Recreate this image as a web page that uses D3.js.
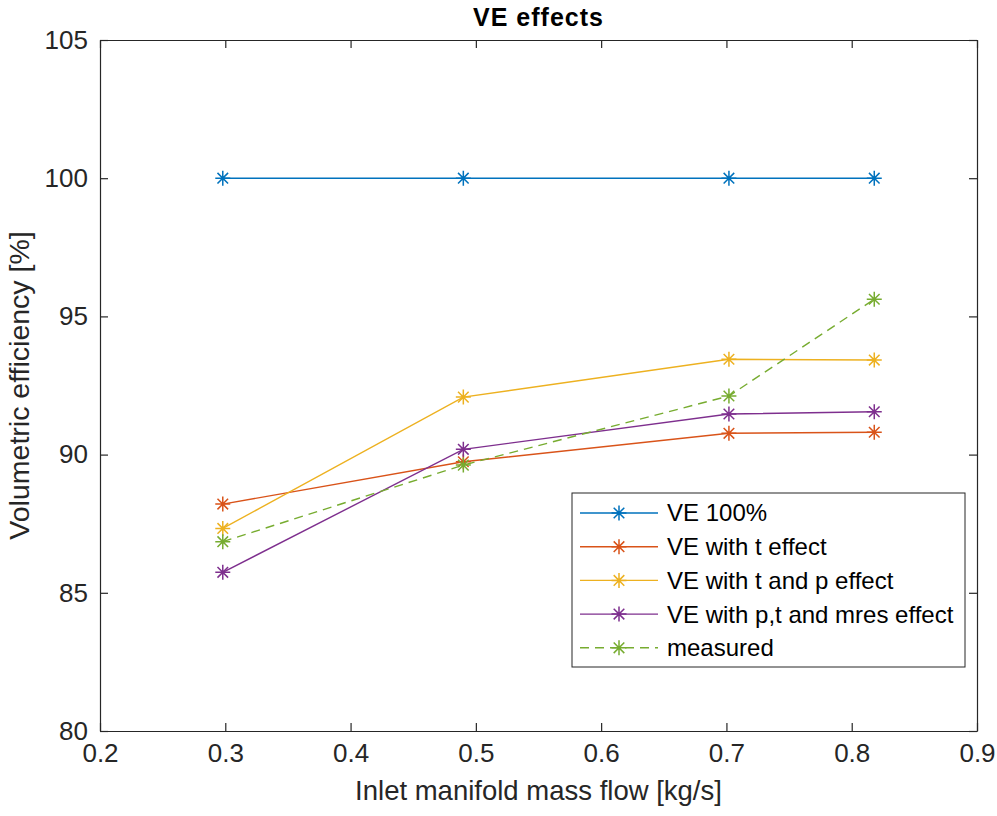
<!DOCTYPE html>
<html>
<head>
<meta charset="utf-8">
<script src="https://cdn.jsdelivr.net/npm/d3@7"></script>
<style>
  body { margin: 0; background: #fff; }
  svg { font-family: "Liberation Sans", Arial, sans-serif; }
</style>
</head>
<body>
<div id="chart"></div>
<script>
const width = 997;
const height = 816;

// data
const massFlow = [0.298, 0.49, 0.702, 0.818];
const ve100 = [100, 100, 100, 100];
const veT = [88.21, 89.74, 90.77, 90.81];
const veTP = [87.33, 92.08, 93.45, 93.42];
const vePTM = [85.74, 90.19, 91.47, 91.55];
const measured = [86.85, 89.62, 92.12, 95.62];

const seriesNames = ["VE 100%", "VE with t effect", "VE with t and p effect", "VE with p,t and mres effect", "measured"];
const seriesColors = ["#0072BD", "#D95319", "#EDB120", "#7E2F8E", "#77AC30"];
const xTicks = [0.2, 0.3, 0.4, 0.5, 0.6, 0.7, 0.8, 0.9];
const yTicks = [80, 85, 90, 95, 100, 105];

const series = [ve100, veT, veTP, vePTM, measured].map((vals, i) => ({
    name: seriesNames[i],
    color: seriesColors[i],
    dashed: i === 4,
    points: vals.map((v, j) => ({ x: massFlow[j], y: v }))
}));

const margin = { left: 100, right: 20, top: 40, bottom: 85 };
const x = d3.scaleLinear().domain([0.2, 0.9]).range([margin.left, width - margin.right]);
const y = d3.scaleLinear().domain([80, 105]).range([height - margin.bottom, margin.top]);

const svg = d3.select("#chart").append("svg")
    .attr("width", width)
    .attr("height", height);

const axisColor = "#262626";
const tickLen = 8;

// bottom axis
svg.append("g")
    .attr("transform", `translate(0,${y(80)})`)
    .call(d3.axisBottom(x).tickValues(xTicks).tickFormat(d3.format(".1f"))
        .tickSizeInner(-tickLen).tickSizeOuter(0).tickPadding(13))
    .call(g => g.selectAll("text").attr("font-size", 26).attr("fill", axisColor));

// top axis (ticks only)
svg.append("g")
    .attr("transform", `translate(0,${y(105)})`)
    .call(d3.axisTop(x).tickValues(xTicks).tickFormat("")
        .tickSizeInner(-tickLen).tickSizeOuter(0));

// left axis
svg.append("g")
    .attr("transform", `translate(${x(0.2)},0)`)
    .call(d3.axisLeft(y).tickValues(yTicks)
        .tickSizeInner(-tickLen).tickSizeOuter(0).tickPadding(12))
    .call(g => g.selectAll("text").attr("font-size", 26).attr("fill", axisColor));

// right axis (ticks only)
svg.append("g")
    .attr("transform", `translate(${x(0.9)},0)`)
    .call(d3.axisRight(y).tickValues(yTicks).tickFormat("")
        .tickSizeInner(-tickLen).tickSizeOuter(0));

svg.selectAll(".domain, .tick line").attr("stroke", axisColor).attr("stroke-width", 1.2);

// title and axis labels
svg.append("text")
    .attr("x", (x(0.2) + x(0.9)) / 2)
    .attr("y", 26)
    .attr("text-anchor", "middle")
    .attr("font-size", 25)
    .attr("font-weight", "bold")
    .attr("letter-spacing", 1)
    .attr("fill", "#000")
    .text("VE effects");

svg.append("text")
    .attr("x", (x(0.2) + x(0.9)) / 2)
    .attr("y", 800)
    .attr("text-anchor", "middle")
    .attr("font-size", 27.5)
    .attr("fill", axisColor)
    .text("Inlet manifold mass flow [kg/s]");

svg.append("text")
    .attr("transform", `translate(29,${(y(80) + y(105)) / 2}) rotate(-90)`)
    .attr("text-anchor", "middle")
    .attr("font-size", 28.5)
    .attr("fill", axisColor)
    .text("Volumetric efficiency [%]");

// star marker: plus + cross
function star(g, cx, cy, r, color) {
    const d = r * Math.SQRT1_2;
    g.append("path")
        .attr("d", `M${cx - r},${cy}H${cx + r}M${cx},${cy - r}V${cy + r}` +
            `M${cx - d},${cy - d}L${cx + d},${cy + d}M${cx - d},${cy + d}L${cx + d},${cy - d}`)
        .attr("stroke", color)
        .attr("stroke-width", 1.5)
        .attr("fill", "none");
}

const line = d3.line().x(d => x(d.x)).y(d => y(d.y));

const plot = svg.append("g");
series.forEach(s => {
    plot.append("path")
        .datum(s.points)
        .attr("d", line)
        .attr("fill", "none")
        .attr("stroke", s.color)
        .attr("stroke-width", 1.4)
        .attr("stroke-dasharray", s.dashed ? "9,6" : null);
    s.points.forEach(p => star(plot, x(p.x), y(p.y), 7.5, s.color));
});

// legend
const legend = svg.append("g").attr("transform", "translate(572,493)");
legend.append("rect")
    .attr("width", 393)
    .attr("height", 174)
    .attr("fill", "#fff")
    .attr("stroke", axisColor)
    .attr("stroke-width", 1);

series.forEach((s, i) => {
    const ly = 20 + i * 33.7;
    legend.append("line")
        .attr("x1", 8).attr("x2", 86)
        .attr("y1", ly).attr("y2", ly)
        .attr("stroke", s.color)
        .attr("stroke-width", 1.4)
        .attr("stroke-dasharray", s.dashed ? "9,6" : null);
    star(legend, 47, ly, 7.5, s.color);
    legend.append("text")
        .attr("x", 95)
        .attr("y", ly)
        .attr("dy", "0.35em")
        .attr("font-size", 24)
        .attr("fill", "#000")
        .text(s.name);
});
</script>
</body>
</html>
